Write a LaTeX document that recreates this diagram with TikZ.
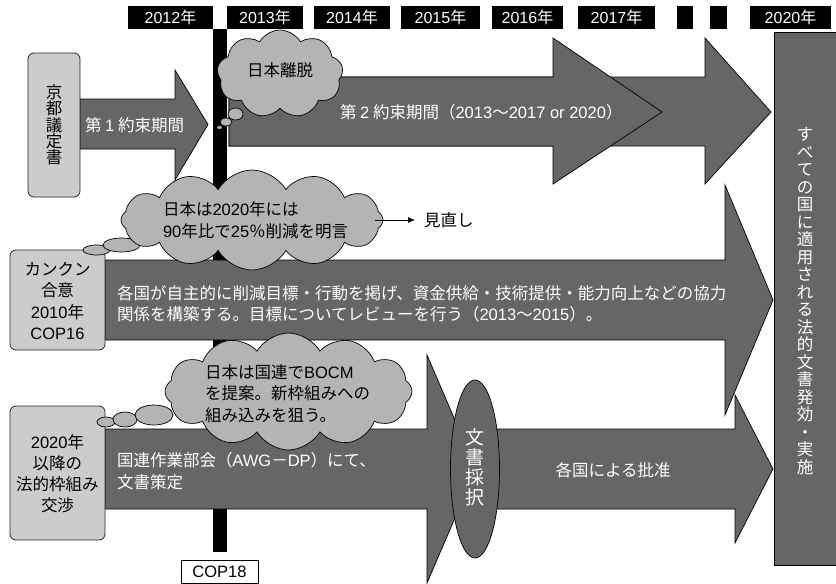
\documentclass[tikz,border=0pt]{standalone}
\usepackage{fontspec}
\setmainfont{Noto Sans CJK JP}
\newfontfamily\lat{Liberation Sans}
\usetikzlibrary{shapes.symbols,shapes.geometric,arrows.meta}
\definecolor{agray}{HTML}{666666}
\definecolor{bgray}{HTML}{CCCCCC}
\definecolor{cgray}{HTML}{B4B4B4}
\begin{document}
\begin{tikzpicture}[x=1pt,y=-1pt,
 every node/.style={inner sep=0pt,outer sep=0pt},
 txt/.style={font=\fontsize{16.5}{21.5}\selectfont},
 arr/.style={fill=agray,draw=black,line width=0.7pt,line join=miter},
 ybox/.style={fill=black,text=white,minimum height=23pt,font=\fontsize{16}{18}\selectfont},
 gbox/.style={fill=bgray,draw=black!85,line width=0.8pt,rounded corners=6pt},
 wtext/.style={text=white,font=\fontsize{16.5}{21.5}\selectfont,align=left},
 btext/.style={text=black,font=\fontsize{16.5}{21.5}\selectfont,align=center},
 bub/.style={ellipse,fill=cgray,draw=black,line width=0.7pt},
 cl/.style={cloud,cloud puffs=11,cloud puff arc=120,cloud ignores aspect,fill=cgray,draw=black,line width=0.7pt},
]
\useasboundingbox (0,0) rectangle (836,584);
\fill[white] (0,0) rectangle (836,584);

% year labels
\node[ybox,minimum width=85pt] (y2012) at (170.5,17.5) {{\lat 2012}年};
\node[ybox,minimum width=76pt] (y2013) at (265,17.5) {{\lat 2013}年};
\node[ybox,minimum width=76pt] (y2014) at (352,17.5) {{\lat 2014}年};
\node[ybox,minimum width=79pt] (y2015) at (440.5,17.5) {{\lat 2015}年};
\node[ybox,minimum width=71pt] (y2016) at (527.5,17.5) {{\lat 2016}年};
\node[ybox,minimum width=77pt] (y2017) at (616.5,17.5) {{\lat 2017}年};
\node[ybox,minimum width=16pt] (yb1) at (685,17.5) {};
\node[ybox,minimum width=17pt] (yb2) at (718.5,17.5) {};
\node[ybox,minimum width=81pt] (y2020) at (790.5,17.5) {{\lat 2020}年};

% COP18 bar
\fill[black] (213,29) rectangle (227,552);
\node[draw=black,fill=white,line width=0.8pt,minimum width=77pt,minimum height=23pt,txt] (cop18) at (219.5,571.5) {\lat COP18};

% second commitment period arrows
\draw[arr] (229,77) -- (705,77) -- (705,38) -- (771,112) -- (705,184) -- (705,146) -- (229,146) -- cycle;
\draw[arr] (229,77) -- (553,77) -- (553,38) -- (662,112) -- (553,184) -- (553,146) -- (229,146) -- cycle;
\node[wtext,anchor=west] (t2) at (340,112) {第 {\lat 2} 約束期間（{\lat 2013}～{\lat 2017 or 2020}）};

% first commitment period arrow
\draw[arr] (80,99) -- (175,99) -- (175,70) -- (208,124.5) -- (175,180) -- (175,149) -- (80,149) -- cycle;
\node[wtext,anchor=west] (t1) at (85,125) {第 {\lat 1} 約束期間};

% Kyoto box
\node[gbox,minimum width=52pt,minimum height=144pt] (kyoto) at (54,125) {};
\node[btext,font=\fontsize{16.5}{16.3}\selectfont] (kyototxt) at (54,125) {京\\都\\議\\定\\書};

% Cancun arrow
\draw[arr] (105,260) -- (725,260) -- (725,185) -- (773,300) -- (725,415) -- (725,340) -- (105,340) -- cycle;
\node[wtext,anchor=west] (t3) at (117,304) {各国が自主的に削減目標・行動を掲げ、資金供給・技術提供・能力向上などの協力\\関係を構築する。目標についてレビューを行う（{\lat 2013}～{\lat 2015}）。};

% negotiation arrow and ratification arrow
\draw[arr] (105,429) -- (427,429) -- (427,355) -- (476,469) -- (427,583) -- (427,509) -- (105,509) -- cycle;
\node[wtext,anchor=west] (t4) at (117,471) {国連作業部会（{\lat AWG}－{\lat DP}）にて、\\文書策定};
\draw[arr] (476,429) -- (735,429) -- (735,395) -- (773,469) -- (735,543) -- (735,509) -- (476,509) -- cycle;
\node[wtext,anchor=center] (t5) at (613,470) {各国による批准};
\node[ellipse,fill=agray,draw=black,line width=0.7pt,minimum width=49pt,minimum height=178pt] (adopt) at (475,469) {};
\node[text=white,align=center,font=\fontsize{19}{20}\selectfont] (adopttxt) at (475,467) {文\\書\\採\\択};

% Cancun box and 2020 box
\node[gbox,minimum width=95pt,minimum height=100pt] (cancun) at (57.5,300) {};
\node[btext] (cancuntxt) at (57.5,301) {カンクン\\合意\\{\lat 2010}年\\{\lat COP16}};
\node[gbox,minimum width=95pt,minimum height=134pt] (post) at (57.5,473) {};
\node[btext,font=\fontsize{16.5}{21}\selectfont] (posttxt) at (57.5,473.5) {{\lat 2020}年\\以降の\\法的枠組み\\交渉};

% right box
\draw[fill=agray,draw=black,line width=0.8pt] (774,32) rectangle (840,565);
\node[text=white,align=center,font=\fontsize{16.5}{17.5}\selectfont] (final) at (805,301) {す\\べ\\て\\の\\国\\に\\適\\用\\さ\\れ\\る\\法\\的\\文\\書\\発\\効\\・\\実\\施};

% cloud 1
\node[bub,minimum width=15pt,minimum height=12pt] (b11) at (235.5,114) {};
\node[bub,minimum width=12pt,minimum height=8pt] (b12) at (226,122) {};
\node[bub,minimum width=6pt,minimum height=4pt] (b13) at (219.5,127.5) {};
\node[cl,cloud puffs=9,minimum width=126pt,minimum height=88pt] (c1) at (280,74) {};
\node[txt] (c1txt) at (280,70) {日本離脱};

% cloud 2
\node[bub,minimum width=27pt,minimum height=10pt] (b22) at (96.5,250) {};
\node[bub,minimum width=37pt,minimum height=14pt] (b21) at (121.5,245) {};
\node[cl,cloud puffs=12,minimum width=262pt,minimum height=100pt] (c2) at (252,220) {};
\node[txt,align=left,anchor=west] (c2txt) at (163,220.5) {日本は{\lat 2020}年には\\{\lat 90}年比で{\lat 25}％削減を明言};
\draw[-{Latex[length=7pt,width=6pt]},line width=0.7pt] (375,220) -- (415,220) coordinate (rv);
\node[txt,anchor=west] (review) at (424,220) {見直し};

% cloud 3
\node[bub,minimum width=18pt,minimum height=10pt] (b33) at (106,422) {};
\node[bub,minimum width=24pt,minimum height=15pt] (b32) at (125,419.5) {};
\node[bub,minimum width=38pt,minimum height=20pt] (b31) at (154,415) {};
\node[cl,cloud puffs=12,minimum width=247pt,minimum height=117pt] (c3) at (288.5,391.5) {};
\node[txt,align=left,anchor=west] (c3txt) at (205,393.5) {日本は国連で{\lat BOCM}\\を提案。新枠組みへの\\組み込みを狙う。};
\end{tikzpicture}
\end{document}
